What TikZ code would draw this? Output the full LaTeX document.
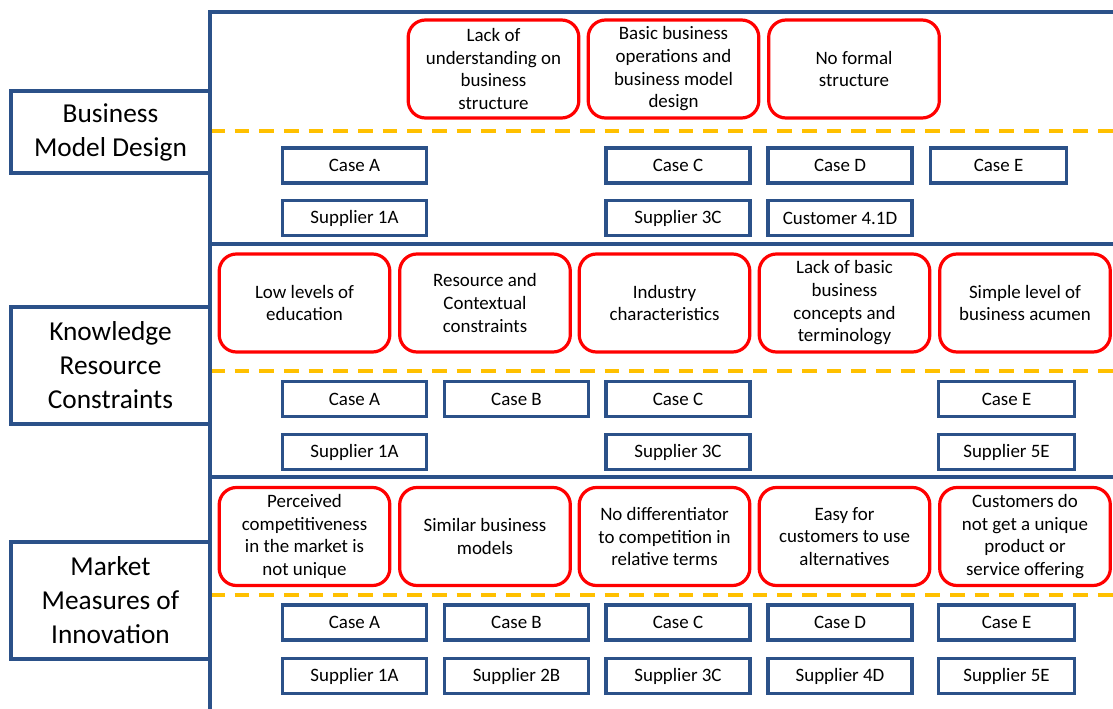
\documentclass[tikz,border=0pt]{standalone}
\usepackage{fontspec}
\setmainfont{Carlito}
\begin{document}
\definecolor{frameblue}{HTML}{2B5189}
\definecolor{dashgold}{HTML}{FFC000}
\definecolor{issuered}{HTML}{FF0000}
\begin{tikzpicture}[x=0.75pt,y=-0.75pt,
  frameline/.style={draw=frameblue,line width=2.4pt},
  splitline/.style={draw=dashgold,line width=2.4pt,dash pattern=on 11pt off 7.5pt},
  headbox/.style={draw=frameblue,line width=2.4pt,fill=white,minimum width=149.25pt,
    align=center,font=\fontsize{20.5}{25.5}\selectfont,inner sep=0pt},
  issue/.style={draw=issuered,line width=2.4pt,rounded corners=13pt,fill=white,
    minimum width=128pt,minimum height=73.5pt,align=center,inner sep=0pt,
    font=\fontsize{14.2}{17}\selectfont},
  casebox/.style={draw=frameblue,line width=2.4pt,fill=white,minimum width=108pt,
    minimum height=26.25pt,inner sep=0pt,font=\fontsize{14.2}{16}\selectfont},
  narrowcase/.style={casebox,minimum width=102pt}]
\useasboundingbox (0,0) rectangle (1113,709);

% section frame and separators
\draw[frameline] (1113,12) -- (210,12) -- (210,712);
\draw[frameline] (210,244) -- (1113,244);
\draw[frameline] (210,477) -- (1113,477);
\draw[splitline] (210,131) -- (1113,131);
\draw[splitline] (210,371) -- (1113,371);
\draw[splitline] (210,595) -- (1113,595);

% section headings
\node[headbox,minimum height=61.5pt] (bmd) at (110.5,132) {Business\\Model Design};
\node[headbox,minimum height=87.75pt] (krc) at (110.5,365.5) {Knowledge\\Resource\\Constraints};
\node[headbox,minimum height=87.75pt] (mmi) at (110.5,600.5) {Market\\Measures of\\Innovation};

% business model design
\node[issue] (b1) at (493.5,69) {Lack of\\understanding on\\business\\structure};
\node[issue] (b2) at (673.5,69) {Basic business\\operations and\\business model\\design};
\node[issue] (b3) at (854,69) {No formal\\structure};
\node[casebox] (bca) at (354.5,165.5) {Case A};
\node[casebox] (bcc) at (678,165.5) {Case C};
\node[casebox] (bcd) at (840,165.5) {Case D};
\node[narrowcase] (bce) at (998.5,165.5) {Case E};
\node[casebox] (bsa) at (354.5,218) {Supplier 1A};
\node[casebox] (bsc) at (678,218) {Supplier 3C};
\node[casebox] (bsd) at (840,218) {Customer 4.1D};

% knowledge resource constraints
\node[issue] (k1) at (304.5,303) {Low levels of\\education};
\node[issue] (k2) at (485,303) {Resource and\\Contextual\\constraints};
\node[issue] (k3) at (664.5,303) {Industry\\characteristics};
\node[issue] (k4) at (844.5,303) {Lack of basic\\business\\concepts and\\terminology};
\node[issue] (k5) at (1025,303) {Simple level of\\business acumen};
\node[casebox] (kca) at (354.5,399) {Case A};
\node[casebox] (kcb) at (516.5,399) {Case B};
\node[casebox] (kcc) at (678,399) {Case C};
\node[narrowcase] (kce) at (1006.5,399) {Case E};
\node[casebox] (ksa) at (354.5,452) {Supplier 1A};
\node[casebox] (ksc) at (678,452) {Supplier 3C};
\node[narrowcase] (kse) at (1006.5,452) {Supplier 5E};

% market measures of innovation
\node[issue] (m1) at (304.5,536.5) {Perceived\\competitiveness\\in the market is\\not unique};
\node[issue] (m2) at (485,536.5) {Similar business\\models};
\node[issue] (m3) at (664.5,536.5) {No differentiator\\to competition in\\relative terms};
\node[issue] (m4) at (844.5,536.5) {Easy for\\customers to use\\alternatives};
\node[issue] (m5) at (1025,536.5) {Customers do\\not get a unique\\product or\\service offering};
\node[casebox] (mca) at (354.5,622.5) {Case A};
\node[casebox] (mcb) at (516.5,622.5) {Case B};
\node[casebox] (mcc) at (678,622.5) {Case C};
\node[casebox] (mcd) at (840,622.5) {Case D};
\node[narrowcase] (mce) at (1006.5,622.5) {Case E};
\node[casebox] (msa) at (354.5,676) {Supplier 1A};
\node[casebox] (msb) at (516.5,676) {Supplier 2B};
\node[casebox] (msc) at (678,676) {Supplier 3C};
\node[casebox] (msd) at (840,676) {Supplier 4D};
\node[narrowcase] (mse) at (1006.5,676) {Supplier 5E};
\end{tikzpicture}
\end{document}
